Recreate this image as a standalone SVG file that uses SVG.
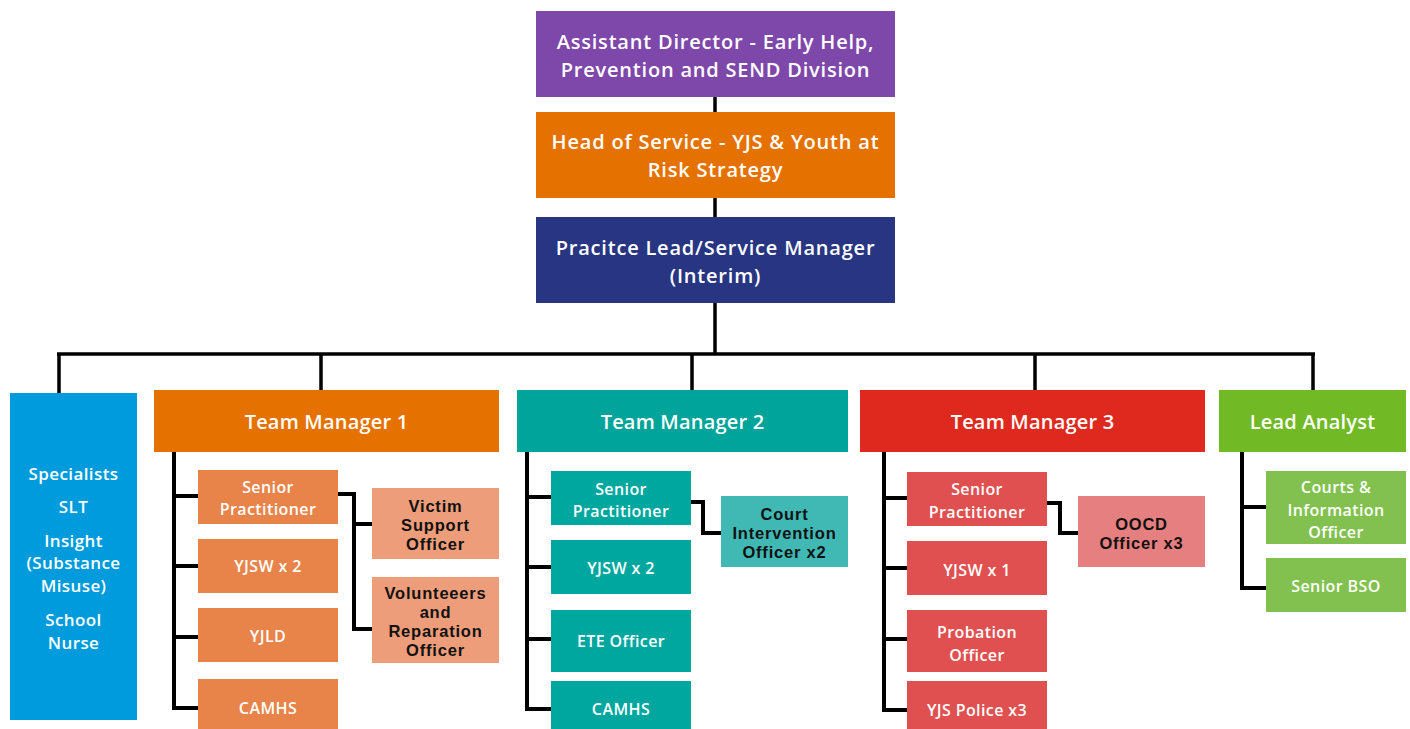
<svg xmlns="http://www.w3.org/2000/svg" width="1410" height="729" viewBox="0 0 1410 729">
<style>
text{font-family:"Open Sans","Noto Sans","Liberation Sans",sans-serif;text-anchor:middle}
.w{fill:#fff;font-weight:600}
.top{font-size:20px;letter-spacing:0.8px}
.tm{font-size:20px;letter-spacing:0.2px}
.ch{font-size:16px;font-weight:600;letter-spacing:0.4px}
.dk{fill:#111;font-family:"Liberation Sans",Arial,sans-serif;font-size:16.5px;font-weight:700;letter-spacing:0.8px}
.sp{font-size:17px;letter-spacing:0.4px}
.bus{fill:none;stroke:#000;stroke-width:3.5}
.br{fill:none;stroke:#000;stroke-width:4}
</style>
<rect width="1410" height="729" fill="#fff"/>
<g id="connectors">
<path class="bus" d="M715 303V354M57 354H1315M59 354V393M321 354V390M692 354V390M1035 354V390M1313 354V390M715 97V112M715 198V217"/>
<path class="br" d="M174 452V708H198M174 496H198M174 566H198M174 637H198M338 494H354V629H372M354 524H372"/>
<path class="br" d="M527 452V709H551M527 497H551M527 567H551M527 639H551M691 502H703V533H721"/>
<path class="br" d="M884 452V710H907M884 498H907M884 568H907M884 639H907M1047 503H1060V533H1078"/>
<path class="br" d="M1242 452V588H1266M1242 507H1266"/>
</g>
<g id="assistant-director"><rect x="536" y="11" width="359" height="86" fill="#7E47AA"/><text class="w top" x="715.5" y="49">Assistant Director - Early Help,</text><text class="w top" x="715.5" y="77">Prevention and SEND Division</text></g>
<g id="head-of-service"><rect x="536" y="112" width="359" height="86" fill="#E57200"/><text class="w top" x="715.5" y="149">Head of Service - YJS &amp; Youth at</text><text class="w top" x="715.5" y="177">Risk Strategy</text></g>
<g id="practice-lead"><rect x="536" y="217" width="359" height="86" fill="#283583"/><text class="w top" x="715.5" y="255">Pracitce Lead/Service Manager</text><text class="w top" x="715.5" y="283">(Interim)</text></g>
<g id="specialists"><rect x="10" y="393" width="127" height="327" fill="#009BDC"/>
<text class="w sp" x="73.5" y="480">Specialists</text><text class="w sp" x="73.5" y="513">SLT</text><text class="w sp" x="73.5" y="547">Insight</text><text class="w sp" x="73.5" y="569">(Substance</text><text class="w sp" x="73.5" y="592">Misuse)</text><text class="w sp" x="73.5" y="626">School</text><text class="w sp" x="73.5" y="649">Nurse</text></g>
<g id="tm1"><rect x="154" y="390" width="345" height="62" fill="#E57200"/><text class="w tm" x="326.5" y="429">Team Manager 1</text></g>
<g id="tm1-sp"><rect x="198" y="470" width="140" height="54" fill="#E8834A"/><text class="w ch" x="268" y="493">Senior</text><text class="w ch" x="268" y="515">Practitioner</text></g>
<g id="tm1-yjsw"><rect x="198" y="539" width="140" height="54" fill="#E8834A"/><text class="w ch" x="268" y="572">YJSW x 2</text></g>
<g id="tm1-yjld"><rect x="198" y="608" width="140" height="54" fill="#E8834A"/><text class="w ch" x="268" y="642">YJLD</text></g>
<g id="tm1-camhs"><rect x="198" y="679" width="140" height="50" fill="#E8834A"/><text class="w ch" x="268" y="714">CAMHS</text></g>
<g id="victim"><rect x="372" y="488" width="127" height="71" fill="#ED9D7A"/><text class="dk" x="435.5" y="512">Victim</text><text class="dk" x="435.5" y="531">Support</text><text class="dk" x="435.5" y="550">Officer</text></g>
<g id="volunteers"><rect x="372" y="577" width="127" height="86" fill="#ED9D7A"/><text class="dk" x="435.5" y="599">Volunteeers</text><text class="dk" x="435.5" y="618">and</text><text class="dk" x="435.5" y="637">Reparation</text><text class="dk" x="435.5" y="656">Officer</text></g>
<g id="tm2"><rect x="517" y="390" width="331" height="62" fill="#00A49A"/><text class="w tm" x="682.5" y="429">Team Manager 2</text></g>
<g id="tm2-sp"><rect x="551" y="471" width="140" height="54" fill="#00A79F"/><text class="w ch" x="621" y="495">Senior</text><text class="w ch" x="621" y="517">Practitioner</text></g>
<g id="tm2-yjsw"><rect x="551" y="540" width="140" height="54" fill="#00A79F"/><text class="w ch" x="621" y="574">YJSW x 2</text></g>
<g id="tm2-ete"><rect x="551" y="610" width="140" height="62" fill="#00A79F"/><text class="w ch" x="621" y="647">ETE Officer</text></g>
<g id="tm2-camhs"><rect x="551" y="681" width="140" height="48" fill="#00A79F"/><text class="w ch" x="621" y="715">CAMHS</text></g>
<g id="court"><rect x="721" y="496" width="127" height="71" fill="#40B8B4"/><text class="dk" x="784.5" y="520">Court</text><text class="dk" x="784.5" y="539">Intervention</text><text class="dk" x="784.5" y="558">Officer x2</text></g>
<g id="tm3"><rect x="860" y="390" width="345" height="62" fill="#E0291E"/><text class="w tm" x="1032.5" y="429">Team Manager 3</text></g>
<g id="tm3-sp"><rect x="907" y="472" width="140" height="54" fill="#E05050"/><text class="w ch" x="977" y="495">Senior</text><text class="w ch" x="977" y="518">Practitioner</text></g>
<g id="tm3-yjsw"><rect x="907" y="541" width="140" height="54" fill="#E05050"/><text class="w ch" x="977" y="576">YJSW x 1</text></g>
<g id="tm3-probation"><rect x="907" y="610" width="140" height="62" fill="#E05050"/><text class="w ch" x="977" y="638">Probation</text><text class="w ch" x="977" y="661">Officer</text></g>
<g id="tm3-police"><rect x="907" y="681" width="140" height="48" fill="#E05050"/><text class="w ch" x="977" y="716">YJS Police x3</text></g>
<g id="oocd"><rect x="1078" y="496" width="127" height="71" fill="#E67F7F"/><text class="dk" x="1141.5" y="530">OOCD</text><text class="dk" x="1141.5" y="549">Officer x3</text></g>
<g id="lead-analyst"><rect x="1219" y="390" width="187" height="62" fill="#72B926"/><text class="w tm" x="1312.5" y="429">Lead Analyst</text></g>
<g id="courts-info"><rect x="1266" y="471" width="140" height="73" fill="#82C150"/><text class="w ch" x="1336" y="493">Courts &amp;</text><text class="w ch" x="1336" y="516">Information</text><text class="w ch" x="1336" y="538">Officer</text></g>
<g id="senior-bso"><rect x="1266" y="558" width="140" height="54" fill="#82C150"/><text class="w ch" x="1336" y="592">Senior BSO</text></g>
</svg>
